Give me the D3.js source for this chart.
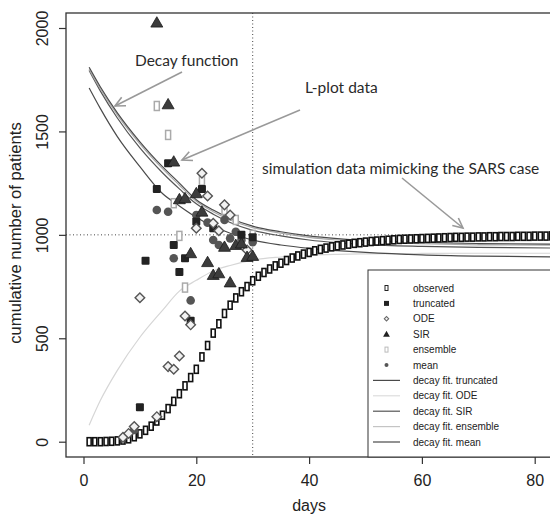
<!DOCTYPE html>
<html>
<head>
<meta charset="utf-8">
<script src="https://cdn.jsdelivr.net/npm/d3@7"></script>
<style>
  body { margin: 0; background: #fff; }
  text { font-family: "Liberation Sans", Arial, Helvetica, sans-serif; }
</style>
</head>
<body>
<svg id="chart" width="550" height="519"></svg>
<script>
// observed (simulated SARS-like) cumulative cases, one per day
const obsDays = [1,2,3,4,5,6,7,8,9,10,11,12,13,14,15,16,17,18,19,20,21,22,23,24,25,26,27,28,29,30,
  31,32,33,34,35,36,37,38,39,40,41,42,43,44,45,46,47,48,49,50,51,52,53,54,55,56,57,58,59,60,
  61,62,63,64,65,66,67,68,69,70,71,72,73,74,75,76,77,78,79,80,81,82,83];
const obsValues = [0,0,0,1,2,4,8,14,24,38,55,75,100,128,160,195,232,270,310,350,410,465,525,570,620,660,695,725,750,778,
  800,818,835,850,863,876,888,898,907,915,923,930,936,942,947,951,955,959,962,965,968,970,972,974,976,978,979,980,981,982,
  983,984,985,986,987,988,988,989,989,990,990,991,991,992,992,992,993,993,993,994,994,994,995];

// L-plot estimates
const truncDays = [10,11,13,15,16,17,18,19,20,21,23,28,30];
const truncValues = [166,875,1222,1346,951,820,887,585,1064,1222,1032,1000,988];
const odeDays = [7,8,9,10,13,15,16,17,18,19,20,21,22,23,24,25,26,29];
const odeValues = [21,40,73,696,121,363,350,414,608,565,1032,1298,1188,1056,1020,1145,1096,927];
const sirDays = [13,15,16,17,18,19,20,21,22,23,24,25,26,27,28,29,30];
const sirValues = [2026,1631,1354,1172,1177,911,1201,1112,868,806,814,942,770,951,958,893,898];
const ensDays = [13,15,16,17,18,20,21,25,27,30];
const ensValues = [1623,1483,1153,995,745,1048,1262,1120,1072,1000];
const meanDays = [9,13,15,16,19,20,22,23,24,25,26,27,28,30];
const meanValues = [57,1120,1112,887,683,1096,1059,975,951,1072,983,1015,975,965];

// decay fits
const fitDays = [1,3,6,10,14,17,20,23,26,30,35,40,45,50,60,70,85];
const fitTruncated = [1810,1715,1590,1450,1330,1250,1170,1120,1080,1042,1015,995,982,973,963,958,955];
const fitODE = [80,200,345,505,635,728,780,825,852,878,893,902,906,908,910,911,911];
const fitSIR = [1795,1695,1565,1420,1300,1222,1150,1100,1060,1022,995,975,962,953,944,939,936];
const fitEnsemble = [1800,1705,1580,1440,1320,1240,1162,1112,1072,1035,1008,988,975,966,957,952,950];
const fitMean = [1710,1610,1475,1330,1200,1140,1085,1040,1008,975,951,935,924,915,903,897,893];

const xTicks = [0,20,40,60,80];
const yTicks = [0,500,1000,1500,2000];

const legendLabels = ["observed","truncated","ODE","SIR","ensemble","mean",
  "decay fit. truncated","decay fit. ODE","decay fit. SIR","decay fit. ensemble","decay fit. mean"];

const plot = {left: 66, right: 552, top: 13, bottom: 457};
const svg = d3.select("#chart");

const x = d3.scaleLinear().domain([0, 80]).range([83.5, 534.7]);
const y = d3.scaleLinear().domain([0, 2000]).range([441.7, 28]);

svg.append("defs").append("clipPath").attr("id", "clip")
  .append("rect")
  .attr("x", plot.left).attr("y", plot.top)
  .attr("width", plot.right - plot.left).attr("height", plot.bottom - plot.top);

const g = svg.append("g").attr("clip-path", "url(#clip)");

// reference lines
g.append("line")
  .attr("x1", x(30)).attr("x2", x(30)).attr("y1", plot.top).attr("y2", plot.bottom)
  .attr("stroke", "#444").attr("stroke-dasharray", "1,2.5");
g.append("line")
  .attr("x1", plot.left).attr("x2", plot.right).attr("y1", y(1000)).attr("y2", y(1000))
  .attr("stroke", "#444").attr("stroke-dasharray", "1,2.5");

// fitted curves
const line = d3.line().x(d => x(d[0])).y(d => y(d[1])).curve(d3.curveMonotoneX);
const fits = [
  {values: fitODE, color: "#d6d6d6"},
  {values: fitMean, color: "#4a4a4a"},
  {values: fitSIR, color: "#555"},
  {values: fitEnsemble, color: "#a8a8a8"},
  {values: fitTruncated, color: "#4a4a4a"}
];
fits.forEach(f => {
  g.append("path")
    .datum(fitDays.map((d, i) => [d, f.values[i]]))
    .attr("d", line)
    .attr("fill", "none")
    .attr("stroke", f.color)
    .attr("stroke-width", 1.2);
});

const zip = (a, b) => a.map((d, i) => [d, b[i]]);

// observed
g.selectAll("rect.obs").data(zip(obsDays, obsValues)).enter()
  .append("rect").attr("class", "obs")
  .attr("x", d => x(d[0]) - 2).attr("y", d => y(d[1]) - 4)
  .attr("width", 4).attr("height", 8)
  .attr("fill", "#fff").attr("stroke", "#111").attr("stroke-width", 1.6);

// ensemble
g.selectAll("rect.ens").data(zip(ensDays, ensValues)).enter()
  .append("rect").attr("class", "ens")
  .attr("x", d => x(d[0]) - 2.5).attr("y", d => y(d[1]) - 4.5)
  .attr("width", 5).attr("height", 9)
  .attr("fill", "#fff").attr("stroke", "#aaa").attr("stroke-width", 1.5);

// mean
g.selectAll("circle.mean").data(zip(meanDays, meanValues)).enter()
  .append("circle").attr("class", "mean")
  .attr("cx", d => x(d[0])).attr("cy", d => y(d[1])).attr("r", 4.3)
  .attr("fill", "#555");

// truncated
g.selectAll("rect.trunc").data(zip(truncDays, truncValues)).enter()
  .append("rect").attr("class", "trunc")
  .attr("x", d => x(d[0]) - 4).attr("y", d => y(d[1]) - 4)
  .attr("width", 8).attr("height", 8).attr("rx", 1)
  .attr("fill", "#222");

// ODE
g.selectAll("path.ode").data(zip(odeDays, odeValues)).enter()
  .append("path").attr("class", "ode")
  .attr("transform", d => `translate(${x(d[0])},${y(d[1])}) rotate(45)`)
  .attr("d", d3.symbol(d3.symbolSquare, 46))
  .attr("fill", "#f2f2f2").attr("stroke", "#555").attr("stroke-width", 1.4);

// SIR
g.selectAll("path.sir").data(zip(sirDays, sirValues)).enter()
  .append("path").attr("class", "sir")
  .attr("transform", d => `translate(${x(d[0])},${y(d[1]) + 1})`)
  .attr("d", d3.symbol(d3.symbolTriangle, 62))
  .attr("fill", "#3c3c3c").attr("stroke", "#1a1a1a").attr("stroke-width", 0.8);

// frame
svg.append("rect")
  .attr("x", plot.left).attr("y", plot.top)
  .attr("width", plot.right - plot.left).attr("height", plot.bottom - plot.top)
  .attr("fill", "none").attr("stroke", "#333").attr("stroke-width", 1.3);

// axes
const xAxis = svg.append("g")
  .attr("transform", `translate(0,${plot.bottom})`)
  .call(d3.axisBottom(x).tickValues(xTicks).tickSize(7).tickFormat(d3.format("d")));
xAxis.select(".domain").remove();
xAxis.selectAll("line").attr("stroke", "#333").attr("stroke-width", 1.2);
xAxis.selectAll("text")
  .attr("y", 29).attr("dy", 0)
  .attr("font-size", 16).attr("fill", "#222");

const yAxis = svg.append("g")
  .attr("transform", `translate(${plot.left},0)`)
  .call(d3.axisLeft(y).tickValues(yTicks).tickSize(7).tickFormat(d3.format("d")));
yAxis.select(".domain").remove();
yAxis.selectAll("line").attr("stroke", "#333").attr("stroke-width", 1.2);
yAxis.selectAll("text")
  .attr("transform", "rotate(-90)")
  .attr("x", 0).attr("y", -18).attr("dy", 0)
  .attr("text-anchor", "middle")
  .attr("font-size", 16).attr("fill", "#222");

svg.append("text")
  .attr("x", x(40)).attr("y", 511)
  .attr("text-anchor", "middle")
  .attr("font-size", 16).attr("fill", "#222")
  .text("days");

svg.append("text")
  .attr("transform", "translate(21,233) rotate(-90)")
  .attr("text-anchor", "middle")
  .attr("font-size", 16.6).attr("fill", "#222")
  .text("cumulative number of patients");

// legend
const legend = svg.append("g");
legend.append("rect")
  .attr("x", 368).attr("y", 270).attr("width", 200).attr("height", plot.bottom - 270)
  .attr("fill", "#fff").attr("stroke", "#333").attr("stroke-width", 1);

const rowY = i => 288 + i * 15.4;
legendLabels.forEach((lab, i) => {
  legend.append("text")
    .attr("x", 413).attr("y", rowY(i) + 3.5)
    .attr("font-size", 10).attr("fill", "#222")
    .text(lab);
});
const lx = 386.5;
legend.append("rect").attr("x", lx - 1.5).attr("y", rowY(0) - 2.5).attr("width", 3).attr("height", 5)
  .attr("fill", "#fff").attr("stroke", "#222").attr("stroke-width", 1);
legend.append("rect").attr("x", lx - 2.5).attr("y", rowY(1) - 2.5).attr("width", 5).attr("height", 5)
  .attr("fill", "#222");
legend.append("path").attr("transform", `translate(${lx},${rowY(2)}) rotate(45)`)
  .attr("d", d3.symbol(d3.symbolSquare, 10))
  .attr("fill", "#eee").attr("stroke", "#666").attr("stroke-width", 1);
legend.append("path").attr("transform", `translate(${lx},${rowY(3) + 0.5})`)
  .attr("d", d3.symbol(d3.symbolTriangle, 20))
  .attr("fill", "#222");
legend.append("rect").attr("x", lx - 1.5).attr("y", rowY(4) - 2.5).attr("width", 3).attr("height", 5)
  .attr("fill", "#fff").attr("stroke", "#bbb").attr("stroke-width", 1);
legend.append("circle").attr("cx", lx).attr("cy", rowY(5)).attr("r", 2)
  .attr("fill", "#555");
const legendLines = ["#4a4a4a", "#ddd", "#555", "#c4c4c4", "#4a4a4a"];
legendLines.forEach((c, i) => {
  legend.append("line")
    .attr("x1", 373).attr("x2", 400)
    .attr("y1", rowY(6 + i)).attr("y2", rowY(6 + i))
    .attr("stroke", c).attr("stroke-width", 1.2);
});

// annotations
const ann = svg.append("g");
const arrow = (x1, y1, x2, y2) => {
  const a = Math.atan2(y2 - y1, x2 - x1), len = 11, spread = 0.45;
  ann.append("line")
    .attr("x1", x1).attr("y1", y1).attr("x2", x2).attr("y2", y2)
    .attr("stroke", "#999").attr("stroke-width", 1.6);
  ann.append("path")
    .attr("d", `M${x2 - len * Math.cos(a - spread)},${y2 - len * Math.sin(a - spread)}L${x2},${y2}L${x2 - len * Math.cos(a + spread)},${y2 - len * Math.sin(a + spread)}`)
    .attr("fill", "none").attr("stroke", "#999").attr("stroke-width", 1.6);
};
arrow(182, 72, 115, 106);
arrow(300, 110, 182, 160);
arrow(402, 178, 463, 228);

const annFont = "Lato, 'Open Sans', sans-serif";
ann.append("text").attr("x", 135).attr("y", 66)
  .attr("font-size", 15.5).attr("fill", "#2a2a2a").style("font-family", annFont)
  .text("Decay function");
ann.append("text").attr("x", 305).attr("y", 93)
  .attr("font-size", 15.5).attr("fill", "#2a2a2a").style("font-family", annFont)
  .text("L-plot data");
ann.append("text").attr("x", 262).attr("y", 174)
  .attr("font-size", 15.5).attr("fill", "#2a2a2a").style("font-family", annFont)
  .text("simulation data mimicking the SARS case");
</script>
</body>
</html>
